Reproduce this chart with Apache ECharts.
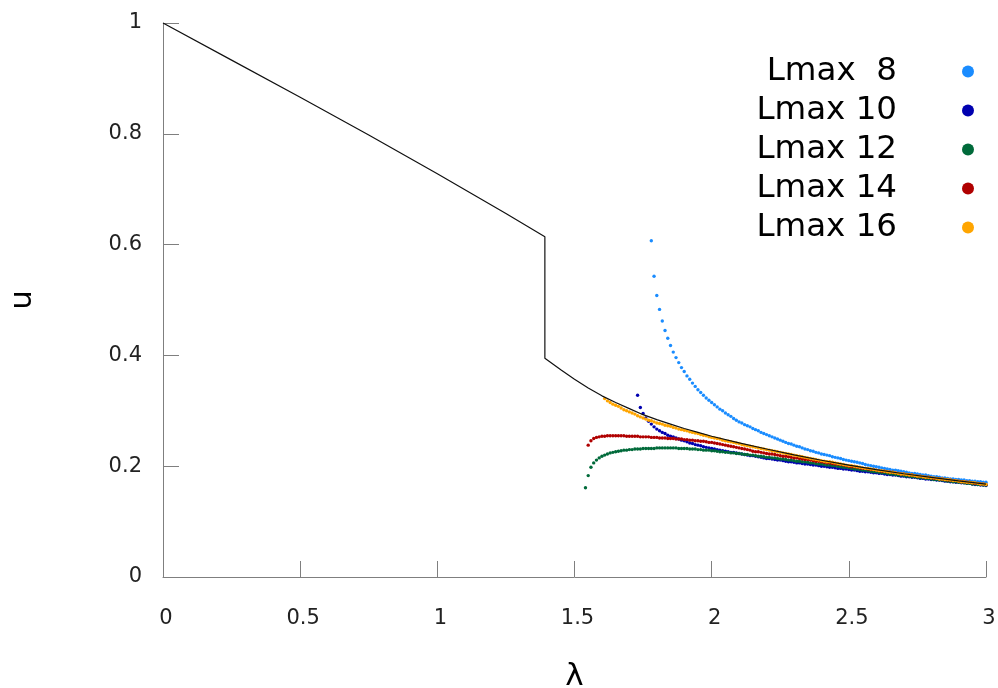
<!DOCTYPE html>
<html>
<head>
<meta charset="utf-8">
<script src="https://cdn.jsdelivr.net/npm/echarts@6/dist/echarts.min.js"></script>
<style>html,body{margin:0;padding:0;background:#fff}#chart{width:998px;height:688px}</style>
</head>
<body>
<div id="chart"></div>
<script>
// Reference curve (black line)
const refX = [0, 0.25, 0.5, 0.75, 1, 1.25, 1.392, 1.392, 1.45, 1.5, 1.55, 1.6, 1.65, 1.7, 1.75, 1.8, 1.85, 1.9, 1.95, 2, 2.1, 2.2, 2.3, 2.4, 2.5, 2.6, 2.7, 2.8, 2.9, 3];
const refU = [1, 0.933, 0.866, 0.798, 0.728, 0.656, 0.614, 0.395, 0.374, 0.357, 0.341, 0.327, 0.315, 0.304, 0.293, 0.284, 0.276, 0.268, 0.261, 0.254, 0.242, 0.231, 0.2205, 0.2108, 0.2018, 0.1937, 0.1864, 0.1797, 0.1734, 0.1675];

// Series names and sampling (lambda step 0.01)
const seriesNames = ['Lmax  8', 'Lmax 10', 'Lmax 12', 'Lmax 14', 'Lmax 16'];
const seriesColors = ['#1a8cff', '#0000b0', '#006a3a', '#b00000', '#ffa500'];
const lambdaStep = 0.01;
const startLmax8 = 1.78, startLmax10 = 1.73, startLmax12 = 1.54, startLmax14 = 1.55, startLmax16 = 1.61;

const lmax8 = [.607,.543,.508,.483,.462,.445,.431,.418,.406,.396,
.387,.378,.371,.363,.357,.350,.344,.338,.333,.328,
.323,.319,.315,.311,.307,.303,.300,.296,.293,.290,
.286,.283,.280,.278,.275,.273,.271,.268,.266,.264,
.261,.259,.257,.255,.253,.251,.249,.247,.245,.243,
.241,.240,.238,.236,.235,.233,.231,.230,.228,.227,
.225,.224,.222,.221,.220,.219,.217,.216,.215,.214,
.212,.211,.210,.209,.208,.207,.206,.205,.203,.202,
.201,.200,.199,.198,.197,.196,.195,.194,.193,.193,
.192,.191,.190,.189,.188,.187,.187,.186,.185,.184,
.184,.183,.182,.181,.181,.180,.179,.179,.178,.177,
.177,.176,.176,.175,.175,.174,.174,.173,.173,.172,
.172,.171,.171];

const lmax10 = [.328,.306,.295,.287,.281,.276,.271,.267,.264,.261,
.259,.256,.254,.253,.251,.249,.247,.246,.244,.242,
.241,.239,.238,.237,.235,.234,.233,.232,.231,.230,
.229,.228,.227,.226,.225,.225,.224,.223,.222,.221,
.220,.219,.219,.218,.217,.216,.215,.214,.214,.213,
.212,.211,.211,.210,.209,.208,.208,.207,.206,.206,
.205,.204,.204,.203,.202,.202,.201,.200,.200,.199,
.198,.198,.197,.196,.196,.195,.195,.194,.193,.193,
.192,.191,.191,.190,.190,.189,.188,.188,.187,.187,
.186,.185,.185,.184,.184,.183,.182,.182,.181,.181,
.180,.180,.179,.178,.178,.177,.177,.176,.176,.175,
.175,.174,.173,.173,.172,.172,.171,.171,.170,.170,
.169,.169,.168,.167,.167,.166,.166,.165];

const lmax12 = [.161,.183,.198,.206,.211,.215,.218,.220,.222,.224,
.225,.226,.227,.228,.229,.229,.230,.230,.231,.231,
.231,.232,.232,.232,.232,.232,.233,.233,.233,.233,
.233,.233,.233,.233,.232,.232,.232,.232,.231,.231,
.231,.230,.230,.229,.229,.229,.228,.228,.227,.226,
.226,.225,.225,.224,.224,.223,.223,.222,.221,.221,
.220,.220,.219,.218,.218,.217,.216,.216,.215,.215,
.214,.213,.213,.212,.211,.211,.210,.209,.209,.208,
.208,.207,.206,.206,.205,.204,.204,.203,.202,.202,
.201,.201,.200,.199,.198,.198,.197,.196,.195,.195,
.194,.193,.193,.192,.191,.190,.190,.189,.188,.188,
.187,.186,.186,.185,.184,.184,.183,.182,.182,.181,
.181,.180,.179,.179,.178,.178,.177,.176,.176,.175,
.175,.174,.173,.173,.172,.172,.171,.171,.170,.169,
.169,.168,.168,.167,.167,.166,.166];

const lmax14 = [.238,.246,.250,.252,.253,.254,.254,.255,.255,.255,
.255,.255,.255,.255,.254,.254,.254,.254,.254,.253,
.253,.253,.253,.252,.252,.252,.251,.251,.251,.250,
.250,.250,.249,.249,.249,.248,.248,.247,.247,.246,
.246,.245,.245,.244,.243,.243,.242,.241,.240,.239,
.238,.237,.236,.235,.234,.233,.232,.231,.230,.229,
.227,.226,.226,.225,.224,.223,.222,.222,.221,.220,
.219,.218,.218,.217,.216,.215,.215,.214,.213,.212,
.212,.211,.210,.209,.209,.208,.207,.206,.206,.205,
.204,.204,.203,.202,.201,.200,.199,.199,.198,.197,
.196,.196,.195,.194,.194,.193,.192,.191,.191,.190,
.189,.189,.188,.187,.186,.186,.185,.184,.184,.183,
.182,.182,.181,.180,.180,.179,.178,.178,.177,.177,
.176,.175,.175,.174,.174,.173,.172,.172,.171,.171,
.170,.169,.169,.168,.168,.167];

const lmax16 = [.322,.318,.315,.312,.310,.308,.305,.302,.300,.298,
.296,.294,.291,.289,.287,.285,.283,.282,.280,.278,
.277,.276,.274,.273,.272,.270,.269,.267,.266,.265,
.264,.262,.261,.260,.259,.257,.256,.255,.253,.252,
.251,.250,.249,.247,.246,.245,.244,.243,.242,.241,
.239,.238,.237,.236,.235,.234,.233,.232,.231,.230,
.229,.228,.227,.226,.225,.224,.223,.222,.221,.220,
.219,.218,.217,.216,.215,.214,.213,.212,.211,.210,
.209,.208,.208,.207,.206,.205,.204,.203,.202,.201,
.201,.200,.199,.198,.197,.196,.196,.195,.194,.193,
.192,.192,.191,.190,.189,.189,.188,.187,.186,.186,
.185,.184,.184,.183,.182,.182,.181,.180,.180,.179,
.179,.178,.177,.177,.176,.176,.175,.174,.174,.173,
.172,.172,.171,.171,.170,.170,.169,.168,.168,.167];

// Axis ticks
const xTicks = [0, 0.5, 1, 1.5, 2, 2.5, 3];
const yTicks = [0, 0.2, 0.4, 0.6, 0.8, 1];

function pairs(start, vals) {
  return vals.map((v, i) => [Math.round((start + i * lambdaStep) * 100) / 100, v]);
}

const scatterSets = [
  pairs(startLmax8, lmax8),
  pairs(startLmax10, lmax10),
  pairs(startLmax12, lmax12),
  pairs(startLmax14, lmax14),
  pairs(startLmax16, lmax16)
];

const FONT = 'DejaVu Sans';
const axisGrey = '#7f7f7f';

const series = [{
  type: 'line',
  name: 'ref',
  data: refX.map((x, i) => [x, refU[i]]),
  showSymbol: false,
  symbol: 'none',
  lineStyle: { color: '#111', width: 1.2 },
  z: 5,
  silent: true
}];
scatterSets.forEach((d, k) => {
  series.push({
    type: 'scatter',
    name: seriesNames[k],
    data: d,
    symbol: 'circle',
    symbolSize: 3.4,
    itemStyle: { color: seriesColors[k], opacity: 1 },
    z: 2 + k * 0.1,
    silent: true
  });
});

const chart = echarts.init(document.getElementById('chart'), null, { renderer: 'canvas' });
chart.setOption({
  animation: false,
  backgroundColor: '#fff',
  color: seriesColors,
  textStyle: { fontFamily: FONT },
  grid: { left: 163, right: 12, top: 23, bottom: 111, containLabel: false, outerBoundsMode: 'none' },
  legend: {
    orient: 'vertical',
    right: 24,
    top: 55,
    align: 'right',
    padding: 0,
    itemGap: 6,
    icon: 'circle',
    itemWidth: 12,
    itemHeight: 12,
    selectedMode: false,
    data: seriesNames,
    textStyle: { fontFamily: FONT, fontSize: 32.5, color: '#000', width: 170, align: 'right', lineHeight: 32, padding: [0, 60, 0, 0] }
  },
  xAxis: {
    type: 'value',
    min: 0, max: 3, interval: 0.5,
    name: 'λ',
    nameLocation: 'middle',
    nameGap: 84,
    nameTextStyle: { fontFamily: FONT, fontSize: 31, color: '#000' },
    axisLine: { show: true, lineStyle: { color: axisGrey, width: 1 } },
    axisTick: { show: true, inside: true, length: 16, lineStyle: { color: axisGrey } },
    axisLabel: { fontFamily: FONT, fontSize: 21, color: '#222', margin: 31, padding: [0, 0, 0, 6],
      formatter: v => xTicks.includes(v) ? String(v) : '' },
    splitLine: { show: false }
  },
  yAxis: {
    type: 'value',
    min: 0, max: 1, interval: 0.2,
    name: 'u',
    nameLocation: 'middle',
    nameGap: 125,
    nameTextStyle: { fontFamily: FONT, fontSize: 31, color: '#000' },
    axisLine: { show: true, lineStyle: { color: axisGrey, width: 1 } },
    axisTick: { show: true, inside: true, length: 16, lineStyle: { color: axisGrey } },
    axisLabel: { fontFamily: FONT, fontSize: 21, color: '#222', margin: 21,
      formatter: v => { const t = yTicks.find(y => Math.abs(y - v) < 1e-9); return t === undefined ? '' : String(t); } },
    splitLine: { show: false }
  },
  series: series
});
</script>
</body>
</html>
